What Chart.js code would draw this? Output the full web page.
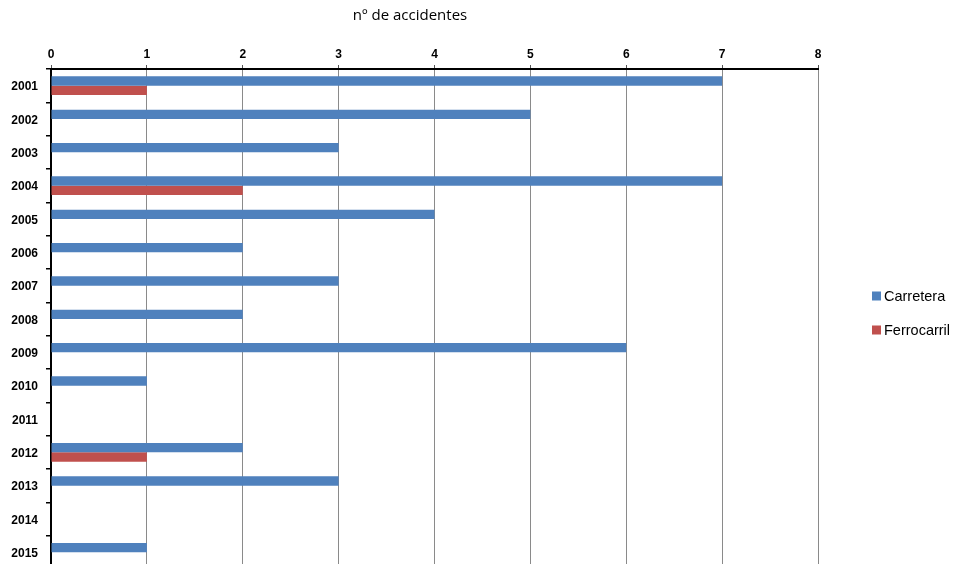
<!DOCTYPE html>
<html>
<head>
<meta charset="utf-8">
<script src="https://cdn.jsdelivr.net/npm/chart.js@4/dist/chart.umd.min.js"></script>
<style>
  html, body { margin: 0; padding: 0; background: #fff; overflow: hidden; }
  canvas { display: block; }
</style>
</head>
<body>
<canvas id="c" width="954" height="571"></canvas>
<script>
// Accidents per year, by transport type
const years = ['2001','2002','2003','2004','2005','2006','2007','2008','2009','2010','2011','2012','2013','2014','2015'];
const carretera   = [7, 5, 3, 7, 4, 2, 3, 2, 6, 1, 0, 2, 3, 0, 1];
const ferrocarril = [1, 0, 0, 2, 0, 0, 0, 0, 0, 0, 0, 1, 0, 0, 0];
const axisTicks = [0, 1, 2, 3, 4, 5, 6, 7, 8];
const chartTitle = 'nº de accidentes';

const BLUE = '#4F81BD';
const RED = '#C0504D';

// Title text above the plot
const titlePlugin = {
  id: 'topTitle',
  afterDraw(chart) {
    const ctx = chart.ctx;
    ctx.save();
    ctx.fillStyle = '#000';
    ctx.font = '15px "Open Sans", sans-serif';
    ctx.textAlign = 'center';
    ctx.textBaseline = 'middle';
    ctx.fillText(chartTitle, 410, 16);
    ctx.restore();
  }
};

// Legend to the right of the plot
const sideLegend = {
  id: 'sideLegend',
  afterDraw(chart) {
    const ctx = chart.ctx;
    ctx.save();
    ctx.font = '14.5px "Liberation Sans", Arial, sans-serif';
    ctx.textBaseline = 'middle';
    chart.data.datasets.forEach((ds, i) => {
      const y = 296 + i * 34;
      ctx.fillStyle = ds.backgroundColor;
      ctx.fillRect(872, y - 4.5, 9, 9);
      ctx.fillStyle = '#000';
      ctx.fillText(ds.label, 884, y + 0.5);
    });
    ctx.restore();
  }
};

new Chart(document.getElementById('c'), {
  type: 'bar',
  data: {
    labels: years,
    datasets: [
      { label: 'Carretera', data: carretera, backgroundColor: BLUE, borderWidth: 0 },
      { label: 'Ferrocarril', data: ferrocarril, backgroundColor: RED, borderWidth: 0 }
    ]
  },
  options: {
    indexAxis: 'y',
    responsive: false,
    devicePixelRatio: 1,
    animation: false,
    categoryPercentage: 0.56,
    barPercentage: 1.0,
    layout: { padding: { top: 41, right: 136, bottom: 2, left: 0 } },
    plugins: {
      legend: { display: false },
      title: { display: false },
      tooltip: { enabled: false }
    },
    scales: {
      x: {
        position: 'top',
        min: 0,
        max: 8,
        afterBuildTicks(scale) { scale.ticks = axisTicks.map(v => ({ value: v })); },
        afterFit(scale) { scale.height = 28; scale.paddingLeft = 0; scale.paddingRight = 0; },
        ticks: {
          color: '#000',
          font: { family: '"Liberation Sans", Arial, sans-serif', size: 12, weight: 'bold' },
          padding: 3
        },
        grid: {
          color: '#8a8a8a',
          lineWidth: 1,
          tickLength: 4,
          tickColor: '#555'
        },
        border: { color: '#000', width: 2 }
      },
      y: {
        afterFit(scale) { scale.width = 51; scale.paddingTop = 0; scale.paddingBottom = 0; },
        ticks: {
          color: '#000',
          font: { family: '"Liberation Sans", Arial, sans-serif', size: 12, weight: 'bold' },
          padding: 8,
          labelOffset: 1.5
        },
        grid: {
          drawOnChartArea: false,
          tickLength: 5,
          tickColor: '#000',
          lineWidth: 1.5
        },
        border: { color: '#000', width: 2 }
      }
    }
  },
  plugins: [titlePlugin, sideLegend]
});
</script>
</body>
</html>
